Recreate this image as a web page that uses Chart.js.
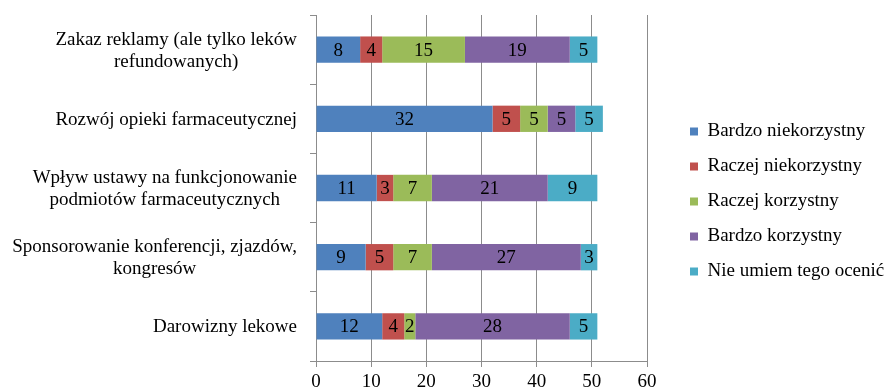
<!DOCTYPE html>
<html lang="pl">
<head>
<meta charset="utf-8">
<title>Ocena zmian w prawie farmaceutycznym</title>
<script src="https://cdn.jsdelivr.net/npm/chart.js@4.4.1/dist/chart.umd.min.js"></script>
<style>
  html, body { margin: 0; padding: 0; background: #fff; }
</style>
</head>
<body>
<canvas id="chart" width="887" height="392"></canvas>
<script>
// -------------------------
// Dane
// -------------------------
const kategorie = [
  ["Zakaz reklamy (ale tylko leków", "refundowanych)"],
  "Rozwój opieki farmaceutycznej",
  ["Wpływ ustawy na funkcjonowanie", "podmiotów farmaceutycznych"],
  ["Sponsorowanie konferencji, zjazdów,", "kongresów"],
  "Darowizny lekowe"
];
const bardzoNiekorzystny = [8, 32, 11, 9, 12];
const raczejNiekorzystny = [4, 5, 3, 5, 4];
const raczejKorzystny = [15, 5, 7, 7, 2];
const bardzoKorzystny = [19, 5, 21, 27, 28];
const nieUmiem = [5, 5, 9, 3, 5];
const osX = [0, 10, 20, 30, 40, 50, 60];
// -------------------------

const czcionka = "'Liberation Serif', 'Times New Roman', serif";
const szary = "#8c8c8c";

// liczby na słupkach
const etykietyPlugin = {
  id: "etykiety",
  afterDatasetsDraw(chart) {
    const ctx = chart.ctx;
    ctx.save();
    ctx.font = "19px " + czcionka;
    ctx.fillStyle = "#000";
    ctx.textAlign = "center";
    ctx.textBaseline = "middle";
    chart.data.datasets.forEach((ds, i) => {
      chart.getDatasetMeta(i).data.forEach((bar, j) => {
        ctx.fillText(ds.data[j], (bar.x + bar.base) / 2, bar.y + 1);
      });
    });
    ctx.restore();
  }
};

// opisy kategorii (wiersze wyśrodkowane, blok do prawej)
const opisyPlugin = {
  id: "opisy",
  afterDraw(chart) {
    const skala = chart.scales.y;
    const ctx = chart.ctx;
    ctx.save();
    ctx.font = "19px " + czcionka;
    ctx.fillStyle = "#000";
    ctx.textAlign = "center";
    ctx.textBaseline = "middle";
    kategorie.forEach((opis, i) => {
      const linie = Array.isArray(opis) ? opis : [opis];
      const szer = Math.max(...linie.map(l => ctx.measureText(l).width));
      const srodekX = skala.right - 19 - szer / 2;
      const y0 = skala.getPixelForTick(i) + 1 - (linie.length - 1) * 11;
      linie.forEach((l, k) => ctx.fillText(l, srodekX, y0 + k * 22));
    });
    ctx.restore();
  }
};

// legenda po prawej, szerokość i przesunięcie
const legendaPlugin = {
  id: "legenda",
  beforeLayout(chart) {
    const leg = chart.legend;
    if (leg && !leg._poprawiona) {
      const fit = leg.fit;
      leg.fit = function () { fit.call(this); this.width = 240; };
      leg._poprawiona = true;
    }
  },
  afterLayout(chart) {
    chart.legend.left = 690 - 16;
    chart.legend.top -= 2;
    chart.legend.bottom -= 2;
  }
};

const ctx = document.getElementById("chart").getContext("2d");
const chart = new Chart(ctx, {
  type: "bar",
  data: {
    labels: kategorie,
    datasets: [
      { label: "Bardzo niekorzystny", data: bardzoNiekorzystny, backgroundColor: "#4F81BD" },
      { label: "Raczej niekorzystny", data: raczejNiekorzystny, backgroundColor: "#C0504D" },
      { label: "Raczej korzystny", data: raczejKorzystny, backgroundColor: "#9BBB59" },
      { label: "Bardzo korzystny", data: bardzoKorzystny, backgroundColor: "#8064A2" },
      { label: "Nie umiem tego ocenić", data: nieUmiem, backgroundColor: "#4BACC6" }
    ]
  },
  options: {
    indexAxis: "y",
    responsive: false,
    animation: false,
    layout: { padding: { top: 15, left: 0, right: 0, bottom: 0 } },
    datasets: {
      bar: { borderWidth: 0, barPercentage: 0.38, categoryPercentage: 1 }
    },
    scales: {
      x: {
        stacked: true,
        min: 0,
        max: 60,
        afterBuildTicks: (s) => { s.ticks = osX.map(v => ({ value: v })); },
        ticks: { color: "#000", font: { family: czcionka, size: 19 }, padding: 4 },
        grid: { color: szary, tickLength: 6 },
        border: { color: szary },
        afterFit: (s) => { s.height = 31; }
      },
      y: {
        stacked: true,
        ticks: { display: false },
        grid: { offset: true, drawOnChartArea: false, tickLength: 6, color: szary },
        border: { color: szary },
        afterFit: (s) => { s.width = 316; }
      }
    },
    plugins: {
      legend: {
        position: "right",
        labels: {
          color: "#000",
          font: { family: czcionka, size: 19 },
          boxWidth: 8,
          boxHeight: 8,
          padding: 16
        }
      },
      tooltip: { enabled: false }
    }
  },
  plugins: [legendaPlugin, etykietyPlugin, opisyPlugin]
});
</script>
</body>
</html>
